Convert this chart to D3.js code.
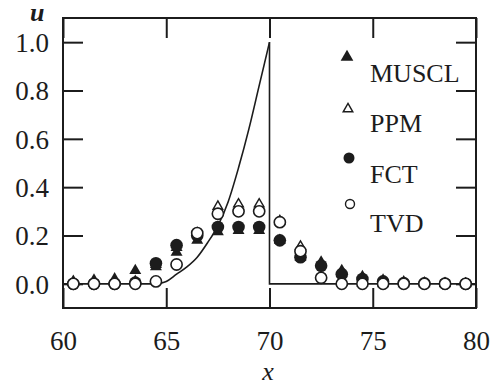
<!DOCTYPE html>
<html>
<head>
<meta charset="utf-8">
<script src="https://cdn.jsdelivr.net/npm/d3@7"></script>
</head>
<body style="margin:0">
<svg id="s" width="495" height="385"></svg>
<script>
// ---- data ----
const xPoints = [60.5, 61.5, 62.5, 63.5, 64.5, 65.5, 66.5, 67.5, 68.5, 69.5,
                 70.5, 71.5, 72.5, 73.5, 74.5, 75.5, 76.5, 77.5, 78.5, 79.5];
const muscl = [0.01, 0.015, 0.02, 0.055, 0.07, 0.13, 0.18, 0.215, 0.22, 0.22,
               0.18, 0.11, 0.09, 0.055, 0.03, 0.015, 0.008, 0.004, 0.002, 0.001];
const ppm   = [0.005, 0.005, 0.005, 0.01, 0.08, 0.15, 0.21, 0.32, 0.33, 0.33,
               0.26, 0.155, 0.03, 0.005, 0.002, 0.0, 0.0, 0.0, 0.0, 0.0];
const fct   = [0.0, 0.0, 0.0, 0.005, 0.085, 0.16, 0.2, 0.235, 0.235, 0.235,
               0.18, 0.11, 0.075, 0.04, 0.02, 0.01, 0.003, 0.002, 0.001, 0.0];
const tvd   = [0.0, 0.0, 0.0, 0.0, 0.01, 0.08, 0.21, 0.29, 0.30, 0.30,
               0.255, 0.135, 0.025, 0.0, 0.0, 0.0, 0.0, 0.0, 0.0, 0.0];

// exact solution (left branch up to the jump, then right branch)
const exactLeftX = [60, 64.5, 65, 65.5, 66, 66.5, 67, 67.5, 68, 68.5, 69, 69.5, 70];
const exactLeftU = [0, 0, 0.01, 0.04, 0.07, 0.11, 0.17, 0.24, 0.34, 0.48, 0.64, 0.82, 1.0];
const exactRightX = [70, 70, 80];
const exactRightU = [1.0, 0, 0];

const xTicks = [60, 65, 70, 75, 80];
const yTicks = [0.0, 0.2, 0.4, 0.6, 0.8, 1.0];
const legendLabels = ["MUSCL", "PPM", "FCT", "TVD"];
const xLabel = "x";
const yLabel = "u";

// ---- layout ----
const svg = d3.select("#s");
const ink = "#1c1c1c";
const L = 63, R = 476, T = 18, B = 308;
const x = d3.scaleLinear().domain([60, 80]).range([L, R]);
const y = d3.scaleLinear().domain([-0.1, 1.1]).range([B, T]);
const tickLen = 20;
const fs = 27;

svg.append("rect").attr("width", 495).attr("height", 385).attr("fill", "#fff");
const g = svg.append("g");

function serif(sel, size, fam) {
  sel.attr("font-size", size).style("font-family", `"${fam}"`);
}

// axes (inward ticks on all four sides)
const axB = d3.axisBottom(x).tickValues(xTicks).tickSize(tickLen).tickFormat(d3.format("d"));
const axT = d3.axisTop(x).tickValues(xTicks).tickSize(tickLen).tickFormat("");
const axL = d3.axisLeft(y).tickValues(yTicks).tickSize(tickLen).tickFormat(d3.format(".1f"));
const axR = d3.axisRight(y).tickValues(yTicks).tickSize(tickLen).tickFormat("");

function styleAxis(sel) {
  sel.attr("font-family", null).attr("font-size", null);
  sel.select(".domain").remove();
  sel.selectAll(".tick line").attr("stroke", ink).attr("stroke-width", 2);
  sel.selectAll(".tick text").attr("fill", ink).call(serif, fs, "Times New Roman");
}

const gB = g.append("g").attr("transform", `translate(0,${B})`).call(axB);
gB.selectAll(".tick line").attr("y2", -tickLen);
gB.selectAll(".tick text").attr("y", 42).attr("dy", 0);
styleAxis(gB);

const gT = g.append("g").attr("transform", `translate(0,${T})`).call(axT);
gT.selectAll(".tick line").attr("y2", tickLen);
styleAxis(gT);

const gL = g.append("g").attr("transform", `translate(${L},0)`).call(axL);
gL.selectAll(".tick line").attr("x2", tickLen);
gL.selectAll(".tick text").attr("x", -14).attr("dy", "0.34em");
styleAxis(gL);

const gR = g.append("g").attr("transform", `translate(${R},0)`).call(axR);
gR.selectAll(".tick line").attr("x2", -tickLen);
styleAxis(gR);

// frame
g.append("rect").attr("x", L).attr("y", T).attr("width", R - L).attr("height", B - T)
  .attr("fill", "none").attr("stroke", ink).attr("stroke-width", 2);

// exact solution
g.append("path")
  .datum(exactLeftX.map((v, i) => [v, exactLeftU[i]]))
  .attr("d", d3.line().x(d => x(d[0])).y(d => y(d[1])).curve(d3.curveMonotoneX))
  .attr("fill", "none").attr("stroke", ink).attr("stroke-width", 1.6);
g.append("path")
  .datum(exactRightX.map((v, i) => [v, exactRightU[i]]))
  .attr("d", d3.line().x(d => x(d[0])).y(d => y(d[1])))
  .attr("fill", "none").attr("stroke", ink).attr("stroke-width", 1.6);

// markers
const triBig = d3.symbol().type(d3.symbolTriangle).size(62);
const triOpen = d3.symbol().type(d3.symbolTriangle).size(40);

function pts(arr) { return xPoints.map((v, i) => [v, arr[i]]); }

g.append("g").selectAll("path").data(pts(muscl)).join("path")
  .attr("d", triBig).attr("transform", d => `translate(${x(d[0])},${y(d[1])})`)
  .attr("fill", ink);

g.append("g").selectAll("path").data(pts(ppm)).join("path")
  .attr("d", triOpen).attr("transform", d => `translate(${x(d[0])},${y(d[1])})`)
  .attr("fill", "#fff").attr("stroke", ink).attr("stroke-width", 1.4);

g.append("g").selectAll("circle").data(pts(fct)).join("circle")
  .attr("cx", d => x(d[0])).attr("cy", d => y(d[1])).attr("r", 6.3)
  .attr("fill", ink);

g.append("g").selectAll("circle").data(pts(tvd)).join("circle")
  .attr("cx", d => x(d[0])).attr("cy", d => y(d[1])).attr("r", 5.6)
  .attr("fill", "#fff").attr("stroke", ink).attr("stroke-width", 1.6);

// legend
const legMarkY = [57, 109, 158, 204];
const legTextY = [82, 132, 183, 232];
const legMX = 348, legTX = 370;
const leg = g.append("g");
leg.append("path").attr("d", d3.symbol().type(d3.symbolTriangle).size(70)())
  .attr("transform", `translate(${legMX - 1},${legMarkY[0]})`).attr("fill", ink);
leg.append("path").attr("d", d3.symbol().type(d3.symbolTriangle).size(40)())
  .attr("transform", `translate(${legMX},${legMarkY[1]})`)
  .attr("fill", "#fff").attr("stroke", ink).attr("stroke-width", 1.4);
leg.append("circle").attr("cx", legMX + 1).attr("cy", legMarkY[2]).attr("r", 5.5).attr("fill", ink);
leg.append("circle").attr("cx", legMX + 2).attr("cy", legMarkY[3]).attr("r", 4.5)
  .attr("fill", "#fff").attr("stroke", ink).attr("stroke-width", 1.4);
leg.selectAll("text").data(legendLabels).join("text")
  .attr("x", legTX).attr("y", (d, i) => legTextY[i])
  .attr("fill", ink).call(serif, 26, "Liberation Serif")
  .text(d => d);

// axis titles
g.append("text").attr("x", 30).attr("y", 21).call(serif, 26, "Tinos")
  .attr("font-style", "italic").attr("font-weight", "bold").attr("fill", ink).text(yLabel);
g.append("text").attr("x", 268).attr("y", 380).attr("text-anchor", "middle")
  .call(serif, 26, "Tinos").attr("font-style", "italic").attr("fill", ink).text(xLabel);
</script>
</body>
</html>
